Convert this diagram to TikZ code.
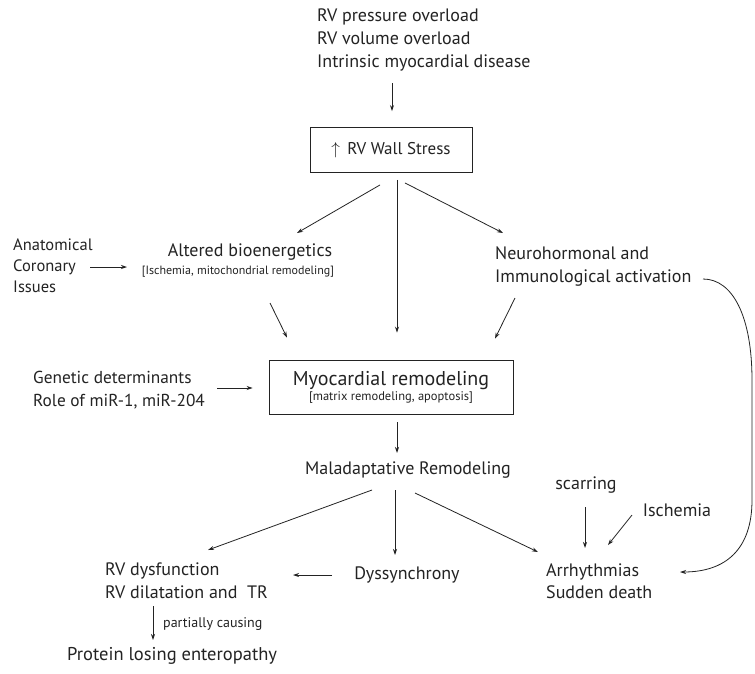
\documentclass[tikz,border=0pt]{standalone}
\usepackage{fontspec}
\setmainfont{PT Sans}
\usetikzlibrary{arrows.meta, positioning}
\definecolor{inkgray}{RGB}{35,35,35}

\begin{document}
\begin{tikzpicture}[
    x=1pt, y=-1pt,
    txt/.style={inner sep=0pt, text=inkgray, font=\fontsize{18}{23}\selectfont},
    small/.style={inner sep=0pt, text=inkgray, font=\fontsize{12}{14}\selectfont},
    boxed/.style={draw=inkgray, line width=0.9pt, inner sep=0pt, text=inkgray},
    arr/.style={draw=inkgray, line width=0.8pt, -{Stealth[length=6pt, width=4pt]}}
]
    \fill[white] (0,0) rectangle (755,673);
    \useasboundingbox (0,0) rectangle (755,673);

    % Causes and wall stress
    \node[txt, align=left, anchor=west] (causes) at (317,40)
        {RV pressure overload\\RV volume overload\\Intrinsic myocardial disease};
    \node[boxed, minimum width=162pt, minimum height=45pt,
          font=\fontsize{17}{20}\selectfont] (wall) at (391,150)
        {$\uparrow$\, RV Wall Stress};

    % Second row
    \node[txt] (altered) at (250,252) {Altered bioenergetics};
    \node[small] (altsub) at (238,272) {[Ischemia, mitochondrial remodeling]};
    \node[txt, align=left, anchor=west, font=\fontsize{16.5}{21}\selectfont] (anat) at (13,266)
        {Anatomical\\Coronary\\Issues};
    \node[txt, align=left, anchor=west] (neuro) at (495,267)
        {Neurohormonal and\\Immunological activation};

    % Myocardial remodeling
    \node[boxed, minimum width=244pt, minimum height=54pt, align=center] (myo) at (391,387)
        {\fontsize{20}{21}\selectfont Myocardial remodeling\\[1pt]
         \fontsize{12.5}{14}\selectfont [matrix remodeling, apoptosis]};
    \node[txt, align=left, anchor=west, font=\fontsize{17.3}{23}\selectfont] (gen) at (33,390)
        {Genetic determinants\\Role of miR-1, miR-204};

    % Consequences
    \node[txt] (mal) at (408,470) {Maladaptative Remodeling};
    \node[txt, align=left, anchor=west] (rvd) at (105,581)
        {RV dysfunction\\RV dilatation and~ TR};
    \node[txt] (dys) at (407,575) {Dyssynchrony};
    \node[small, anchor=west, font=\fontsize{14}{16}\selectfont] (partial) at (163,624) {partially causing};
    \node[txt, anchor=west, font=\fontsize{18.5}{23}\selectfont] (ple) at (67,656) {Protein losing enteropathy};
    \node[txt] (scar) at (586,485) {scarring};
    \node[txt] (isch) at (677,510) {Ischemia};
    \node[txt, align=left, anchor=west, font=\fontsize{18}{22}\selectfont] (arrh) at (546,581)
        {Arrhythmias\\Sudden death};

    % Arrows
    \draw[arr] ([shift={(75,43)}]causes.west) -- ([shift={(1,-16)}]wall.north);
    \draw[arr] ([shift={(-11,12)}]wall.south) -- ([shift={(47,-19)}]altered.center);
    \draw[arr] ([shift={(6,7)}]wall.south) -- ([shift={(6,-27)}]myo.north);
    \draw[arr] ([shift={(14,10)}]wall.south) -- ([shift={(8,-34)}]neuro.west);
    \draw[arr] ([shift={(77,1)}]anat.west) -- ([shift={(-111,-5)}]altsub.center);
    \draw[arr] ([shift={(32,31)}]altsub.center) -- ([shift={(-104,-22)}]myo.north);
    \draw[arr] ([shift={(20,31)}]neuro.west) -- ([shift={(104,-21)}]myo.north);
    \draw[arr] ([shift={(184,-2)}]gen.west) -- ([shift={(-16,1)}]myo.west);
    \draw[arr] ([shift={(6,8)}]myo.south) -- ([shift={(-11,-17)}]mal.center);
    \draw[arr] ([shift={(-36,20)}]mal.center) -- ([shift={(103,-31)}]rvd.west);
    \draw[arr] ([shift={(-13,20)}]mal.center) -- ([shift={(-12,-20)}]dys.center);
    \draw[arr] ([shift={(7,23)}]mal.center) -- ([shift={(-8,-29)}]arrh.west);
    \draw[arr] ([shift={(-75,0)}]dys.center) -- ([shift={(188,-6)}]rvd.west);
    \draw[arr] ([shift={(48,25)}]rvd.west) -- ([shift={(86,-16)}]ple.west);
    \draw[arr] ([shift={(-1,22)}]scar.center) -- ([shift={(39,-33)}]arrh.west);
    \draw[arr] ([shift={(-45,5)}]isch.center) -- ([shift={(62,-36)}]arrh.west);
    \draw[arr] ([shift={(208,12)}]neuro.west)
        .. controls ([shift={(238,12)}]neuro.west) and ([shift={(257,50)}]neuro.west)
        .. ([shift={(257,113)}]neuro.west)
        -- ([shift={(257,233)}]neuro.west)
        .. controls ([shift={(257,283)}]neuro.west) and ([shift={(230,305)}]neuro.west)
        .. ([shift={(134,-9)}]arrh.west);
\end{tikzpicture}
\end{document}
